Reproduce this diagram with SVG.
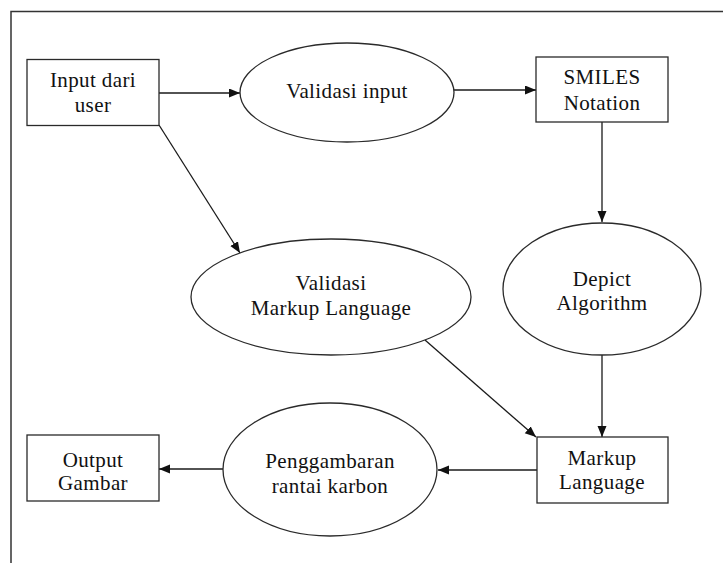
<svg xmlns="http://www.w3.org/2000/svg" width="723" height="563" viewBox="0 0 723 563">
<style>
.shape{fill:#fff;stroke:#2a2a2a;stroke-width:1.3}
.edge{fill:none;stroke:#1a1a1a;stroke-width:1.3}
.lbl{font-family:"Liberation Serif","Times New Roman",serif;font-size:21px;letter-spacing:0.4px;fill:#111;text-anchor:middle}
</style>
<defs>
<marker id="arr" markerUnits="userSpaceOnUse" markerWidth="12" markerHeight="10" refX="11" refY="4.5" orient="auto">
<path d="M0,0 L11,4.5 L0,9 z" fill="#111"/>
</marker>
</defs>
<rect width="723" height="563" fill="#fff"/>
<path d="M11,563 V11.5 H723" fill="none" stroke="#333" stroke-width="1.5"/>
<g id="connectors">
<line class="edge" x1="159" y1="93" x2="240" y2="93" marker-end="url(#arr)"/>
<line class="edge" x1="454" y1="90" x2="536" y2="90" marker-end="url(#arr)"/>
<line class="edge" x1="602" y1="122" x2="602" y2="222" marker-end="url(#arr)"/>
<line class="edge" x1="159" y1="125" x2="240" y2="253" marker-end="url(#arr)"/>
<line class="edge" x1="602" y1="355" x2="602" y2="437" marker-end="url(#arr)"/>
<line class="edge" x1="425" y1="340" x2="536" y2="437" marker-end="url(#arr)"/>
<line class="edge" x1="537" y1="470" x2="438" y2="470" marker-end="url(#arr)"/>
<line class="edge" x1="223" y1="469" x2="159" y2="469" marker-end="url(#arr)"/>
</g>
<g id="input-dari-user">
<rect class="shape" x="27" y="59.5" width="132" height="66"/>
<text class="lbl" x="93" y="87">Input dari</text>
<text class="lbl" x="93" y="112">user</text>
</g>
<g id="validasi-input">
<ellipse class="shape" cx="347" cy="92.5" rx="107" ry="49.5"/>
<text class="lbl" x="347" y="98">Validasi input</text>
</g>
<g id="smiles-notation">
<rect class="shape" x="536" y="57" width="132" height="65"/>
<text class="lbl" x="602" y="84">SMILES</text>
<text class="lbl" x="602" y="110">Notation</text>
</g>
<g id="validasi-markup-language">
<ellipse class="shape" cx="331" cy="297" rx="140" ry="58"/>
<text class="lbl" x="331" y="290">Validasi</text>
<text class="lbl" x="331" y="315">Markup Language</text>
</g>
<g id="depict-algorithm">
<ellipse class="shape" cx="602" cy="289" rx="99" ry="66"/>
<text class="lbl" x="602" y="286">Depict</text>
<text class="lbl" x="602" y="310">Algorithm</text>
</g>
<g id="markup-language">
<rect class="shape" x="537" y="437" width="131" height="66"/>
<text class="lbl" x="602" y="465">Markup</text>
<text class="lbl" x="602" y="489">Language</text>
</g>
<g id="penggambaran-rantai-karbon">
<ellipse class="shape" cx="330" cy="469.5" rx="107" ry="66.5"/>
<text class="lbl" x="330" y="468">Penggambaran</text>
<text class="lbl" x="330" y="493">rantai karbon</text>
</g>
<g id="output-gambar">
<rect class="shape" x="27" y="435" width="132" height="66"/>
<text class="lbl" x="93" y="467">Output</text>
<text class="lbl" x="93" y="490">Gambar</text>
</g>
</svg>
